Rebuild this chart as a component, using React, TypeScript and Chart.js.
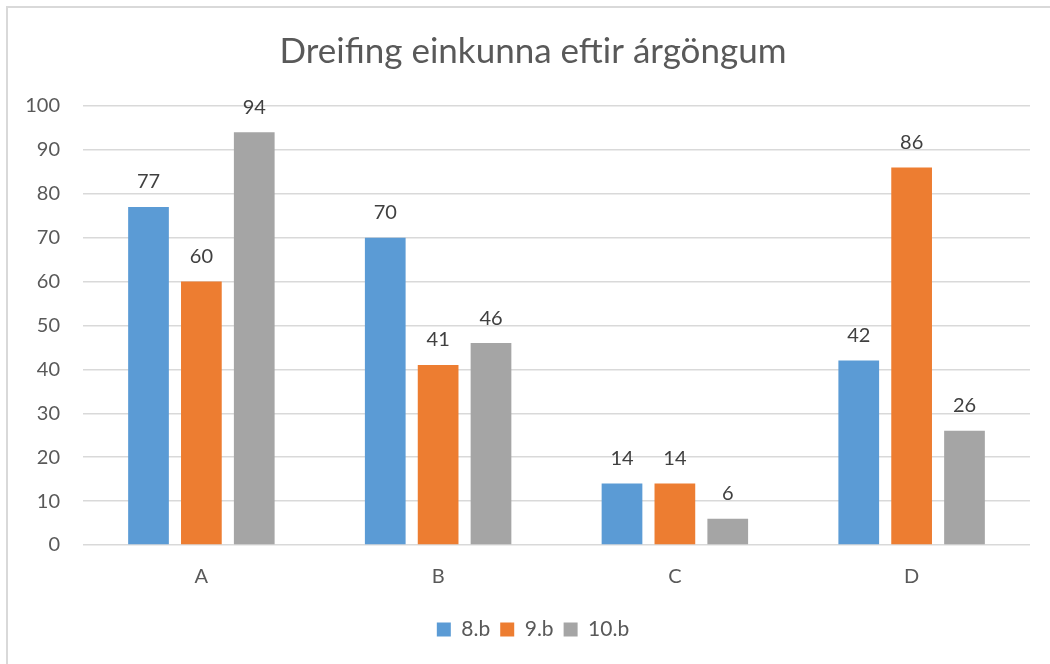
import React, { useEffect, useRef } from "react";
import { Chart, registerables } from "chart.js";

Chart.register(...registerables);

const categories = ["A", "B", "C", "D"];
const series8b = [77, 70, 14, 42];
const series9b = [60, 41, 14, 86];
const series10b = [94, 46, 6, 26];
const seriesNames = ["8.b", "9.b", "10.b"];
const seriesColors = ["#5B9BD5", "#ED7D31", "#A5A5A5"];
const yTicks = [0, 10, 20, 30, 40, 50, 60, 70, 80, 90, 100];
const titleText = "Dreifing einkunna eftir árgöngum";

const FONT = "Lato, 'Open Sans', sans-serif";

const valueLabels = {
  id: "valueLabels",
  afterDatasetsDraw(chart: any) {
    const ctx = chart.ctx;
    ctx.save();
    ctx.font = `20px ${FONT}`;
    ctx.fillStyle = "#404040";
    ctx.textAlign = "center";
    ctx.textBaseline = "middle";
    chart.data.datasets.forEach((ds: any, i: number) => {
      const meta = chart.getDatasetMeta(i);
      meta.data.forEach((bar: any, j: number) => {
        ctx.fillText(String(ds.data[j]), bar.x, bar.y - 25);
      });
    });
    ctx.restore();
  },
};

const shiftBlocks = {
  id: "shiftBlocks",
  afterLayout(chart: any) {
    const dx = 18;
    [chart.titleBlock, chart.legend].forEach((b: any) => {
      if (b) {
        b.left += dx;
        b.right += dx;
      }
    });
  },
};

export default function App() {
  const ref = useRef<HTMLCanvasElement>(null);
  useEffect(() => {
    if (!ref.current) return;
    const data = [series8b, series9b, series10b];
    const chart = new Chart(ref.current, {
      type: "bar",
      data: {
        labels: categories,
        datasets: seriesNames.map((name, i) => ({
          label: name,
          data: data[i],
          backgroundColor: seriesColors[i],
          borderWidth: 0,
          categoryPercentage: 0.67,
          barPercentage: 0.77,
        })),
      },
      options: {
        responsive: false,
        animation: false,
        layout: { padding: { left: 0, right: 20, top: 0, bottom: 14 } },
        plugins: {
          title: {
            display: true,
            text: titleText,
            color: "#595959",
            font: { family: FONT, size: 35, weight: "normal" },
            padding: { top: 31, bottom: 33 },
          },
          legend: {
            position: "bottom",
            labels: {
              color: "#595959",
              font: { family: FONT, size: 21 },
              boxWidth: 14,
              boxHeight: 14,
              padding: 10,
            },
          },
          tooltip: { enabled: false },
        },
        scales: {
          x: {
            grid: { display: false, drawTicks: false },
            border: { display: false },
            ticks: { color: "#595959", font: { family: FONT, size: 20 }, padding: 20 },
            afterFit(scale: any) {
              scale.height = 64;
            },
          },
          y: {
            min: 0,
            max: 100,
            afterBuildTicks(scale: any) {
              scale.ticks = yTicks.map((v) => ({ value: v }));
            },
            grid: { color: "#D9D9D9", lineWidth: 1.5, drawTicks: false },
            border: { display: false },
            ticks: { color: "#595959", font: { family: FONT, size: 20 }, padding: 23 },
            afterFit(scale: any) {
              scale.width = 83;
            },
          },
        },
      },
      plugins: [valueLabels, shiftBlocks],
    });
    return () => chart.destroy();
  }, []);
  return (
    <div style={{ position: "fixed", left: 0, top: 0, width: 1050, height: 664, background: "#fff", overflow: "hidden" }}>
      <div
        style={{
          position: "absolute",
          left: 6,
          top: 6,
          right: 0,
          bottom: 0,
          borderTop: "2px solid #D9D9D9",
          borderLeft: "2px solid #D9D9D9",
        }}
      />
      <canvas ref={ref} width={1050} height={664} style={{ position: "absolute", left: 0, top: 0 }} />
    </div>
  );
}
